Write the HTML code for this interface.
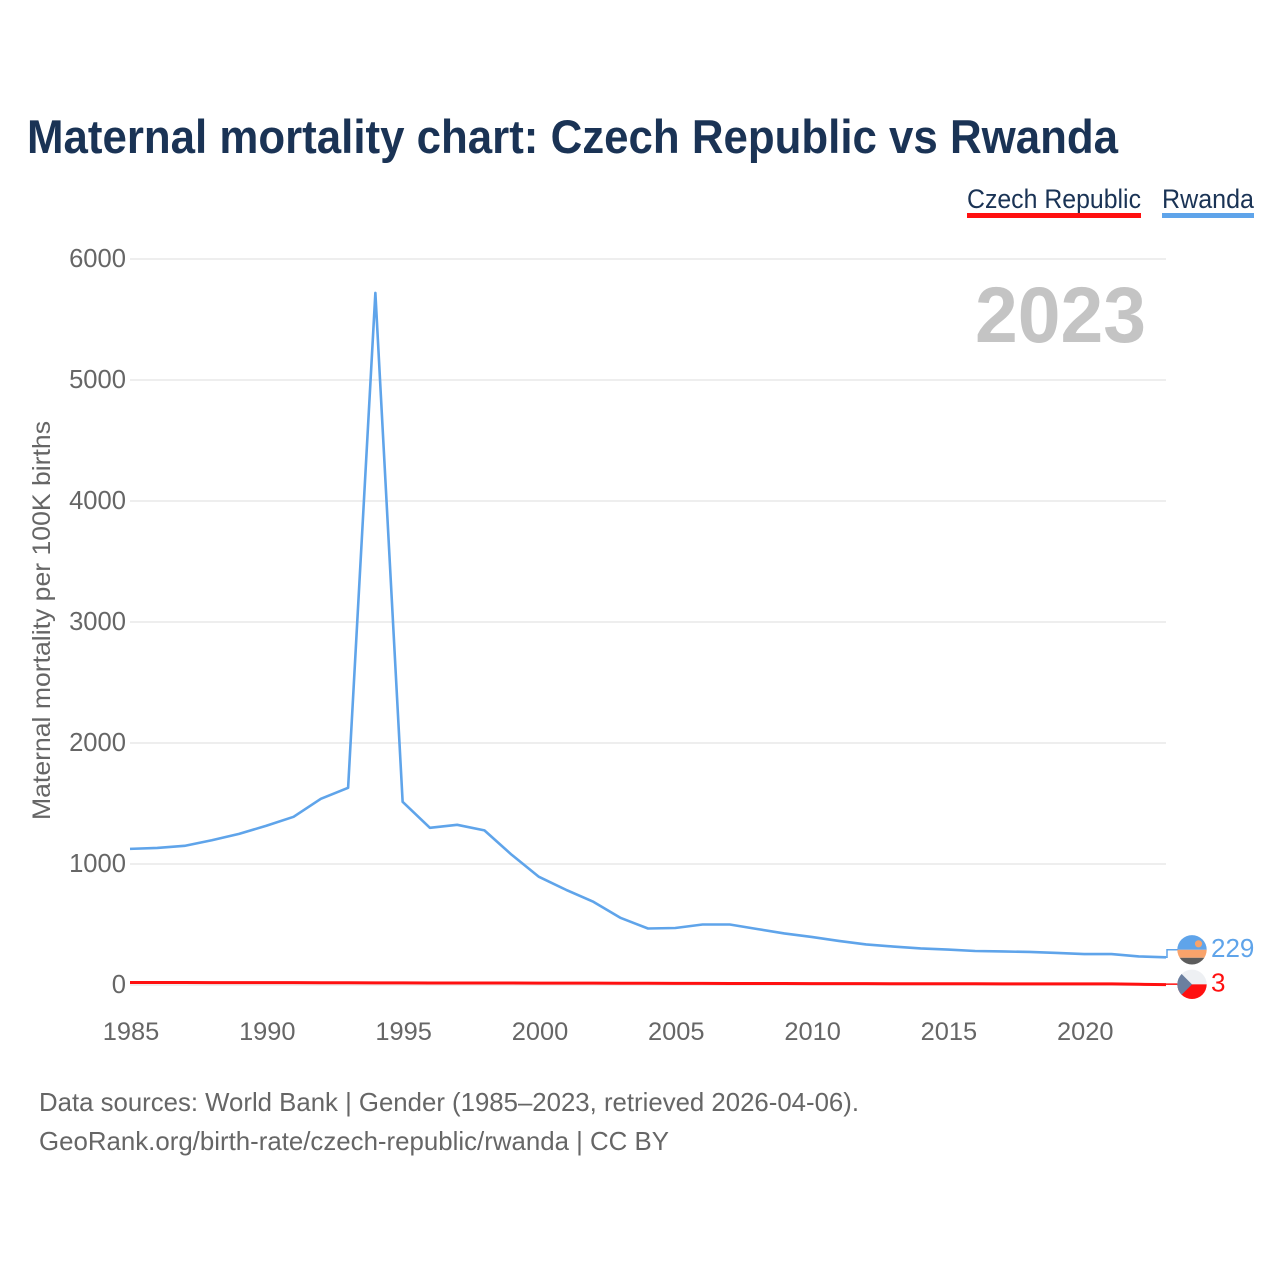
<!DOCTYPE html>
<html lang="en">
<head>
<meta charset="utf-8">
<title>Maternal mortality chart: Czech Republic vs Rwanda</title>
<style>
html,body{margin:0;padding:0;background:#fff;}
svg{display:block;font-family:"Liberation Sans",sans-serif;}
</style>
</head>
<body>
<svg id="chart" width="1280" height="1280" viewBox="0 0 1280 1280" xmlns="http://www.w3.org/2000/svg">
<rect width="1280" height="1280" fill="#ffffff"/>
<text x="27" y="153" font-size="47" font-weight="700" fill="#1a3355" textLength="1091" lengthAdjust="spacingAndGlyphs">Maternal mortality chart: Czech Republic vs Rwanda</text>
<g>
<text x="967" y="208" font-size="27" fill="#1a3355" textLength="174" lengthAdjust="spacingAndGlyphs">Czech Republic</text>
<rect x="967" y="213" width="174" height="5" fill="#ff1010"/>
</g>
<g>
<text x="1162" y="208" font-size="27" fill="#1a3355" textLength="92" lengthAdjust="spacingAndGlyphs">Rwanda</text>
<rect x="1162" y="213" width="92" height="5" fill="#5fa4ea"/>
</g>
<g id="grid"></g>
<g id="yticks"></g>
<g id="xticks"></g>
<text transform="translate(50 820) rotate(-90)" x="0" y="0" font-size="25" fill="#666666" textLength="399" lengthAdjust="spacingAndGlyphs">Maternal mortality per 100K births</text>
<text x="975" y="342" font-size="79" font-weight="700" fill="#c4c4c4" textLength="171" lengthAdjust="spacingAndGlyphs">2023</text>
<g id="series"></g>
<g id="ends"></g>
<text x="39" y="1111" font-size="26" fill="#666666" textLength="820" lengthAdjust="spacingAndGlyphs">Data sources: World Bank | Gender (1985–2023, retrieved 2026-04-06).</text>
<text x="39" y="1150" font-size="26" fill="#666666" textLength="630" lengthAdjust="spacingAndGlyphs">GeoRank.org/birth-rate/czech-republic/rwanda | CC BY</text>
<defs>
<clipPath id="clip-rwanda"><circle cx="0" cy="0" r="14.7"/></clipPath>
<clipPath id="clip-czech"><circle cx="0" cy="0" r="14.7"/></clipPath>
</defs>
</svg>
<script>
const years = [1985,1986,1987,1988,1989,1990,1991,1992,1993,1994,1995,1996,1997,1998,1999,2000,2001,2002,2003,2004,2005,2006,2007,2008,2009,2010,2011,2012,2013,2014,2015,2016,2017,2018,2019,2020,2021,2022,2023];
const rwanda = [1125,1133,1150,1196,1249,1316,1390,1539,1630,5720,1514,1299,1324,1278,1076,894,786,687,554,467,471,500,500,463,426,397,364,335,318,302,293,281,277,273,265,256,256,236,229];
const czech = [21,21,21,20,20,20,20,19,19,18,18,17,17,16,16,15,15,15,14,14,13,13,12,12,12,11,11,11,10,10,10,10,9,9,9,9,9,6,3];
const yTicks = [0,1000,2000,3000,4000,5000,6000];
const xTicks = [1985,1990,1995,2000,2005,2010,2015,2020];
const seriesNames = ['czech-republic','rwanda'];

const NS = 'http://www.w3.org/2000/svg';
const X0 = 130, X1 = 1166, Y0 = 985, Y1 = 259;
function xScale(year){ return X0 + (year - 1985) * (X1 - X0) / (2023 - 1985); }
function yScale(v){ return Y0 + v * (Y1 - Y0) / 6000; }
function make(tag, attrs, parent, text){
  const el = document.createElementNS(NS, tag);
  for (const k in attrs) el.setAttribute(k, attrs[k]);
  if (text !== undefined) el.textContent = text;
  parent.appendChild(el);
  return el;
}
const grid = document.getElementById('grid');
const yG = document.getElementById('yticks');
const xG = document.getElementById('xticks');
const seriesG = document.getElementById('series');
const endsG = document.getElementById('ends');

yTicks.forEach(function(t){
  const line = make('line', {x1:X0, x2:X1, y1:yScale(t), y2:yScale(t), stroke:'#eeeeee', 'stroke-width':2}, grid);
  
  
  const label = make('text', {x:126, y:yScale(t)+8, 'text-anchor':'end', 'font-size':25.6, fill:'#666666'}, yG, String(t));
  
  
});
xTicks.forEach(function(t){
  const label = make('text', {x:xScale(t)+1, y:1040, 'text-anchor':'middle', 'font-size':25.4, fill:'#666666'}, xG, String(t));
  
  
});
function linePath(vals){
  return vals.map(function(v,i){ return (i ? 'L' : 'M') + xScale(years[i]).toFixed(2) + ' ' + yScale(v).toFixed(2); }).join(' ');
}
const rwandaLine = make('path', {d:linePath(rwanda), fill:'none', stroke:'#5fa4ea', 'stroke-width':2.6, 'stroke-linejoin':'round'}, seriesG);


const czechLine = make('path', {d:linePath(czech), fill:'none', stroke:'#ff1010', 'stroke-width':3, 'stroke-linejoin':'round'}, seriesG);



// end labels: Rwanda sits slightly above its line end to clear the Czech flag
const rwEndY = yScale(rwanda[rwanda.length-1]);
const czEndY = yScale(czech[czech.length-1]);
const rwFlagY = rwEndY - 7.5;
const czFlagY = czEndY - 0.3;
const flagX = 1192;

const rwConn = make('path', {d:'M'+X1+' '+rwEndY.toFixed(2)+' H1167 V'+rwFlagY.toFixed(2)+' H1178', fill:'none', stroke:'#5fa4ea', 'stroke-width':1.5}, endsG);


const czConn = make('path', {d:'M'+X1+' '+(czEndY-0.5).toFixed(2)+' H1178', fill:'none', stroke:'#ff1010', 'stroke-width':1.5}, endsG);



const rwFlag = make('g', {transform:'translate('+flagX+' '+rwFlagY.toFixed(2)+')', 'clip-path':'url(#clip-rwanda)'}, endsG);


make('rect', {x:-15, y:-15, width:30, height:15, fill:'#5fa4ea'}, rwFlag);
make('rect', {x:-15, y:0, width:30, height:8, fill:'#f9a36b'}, rwFlag);
make('rect', {x:-15, y:8, width:30, height:7, fill:'#5c5c5c'}, rwFlag);
make('circle', {cx:6.5, cy:-6, r:3.6, fill:'#f9a36b'}, rwFlag);

const czFlag = make('g', {transform:'translate('+flagX+' '+czFlagY.toFixed(2)+')', 'clip-path':'url(#clip-czech)'}, endsG);


make('rect', {x:-15, y:-15, width:30, height:15, fill:'#eef0f3'}, czFlag);
make('rect', {x:-15, y:0, width:30, height:15, fill:'#ff1010'}, czFlag);
make('polygon', {points:'-15,-15 -15,15 0,0', fill:'#6b7f9f'}, czFlag);

const rwLabel = make('text', {x:1211, y:rwFlagY+7, 'font-size':26, fill:'#5fa4ea'}, endsG, String(rwanda[rwanda.length-1]));


const czLabel = make('text', {x:1211, y:czFlagY+7, 'font-size':26, fill:'#ff1010'}, endsG, String(czech[czech.length-1]));


</script>
</body>
</html>
